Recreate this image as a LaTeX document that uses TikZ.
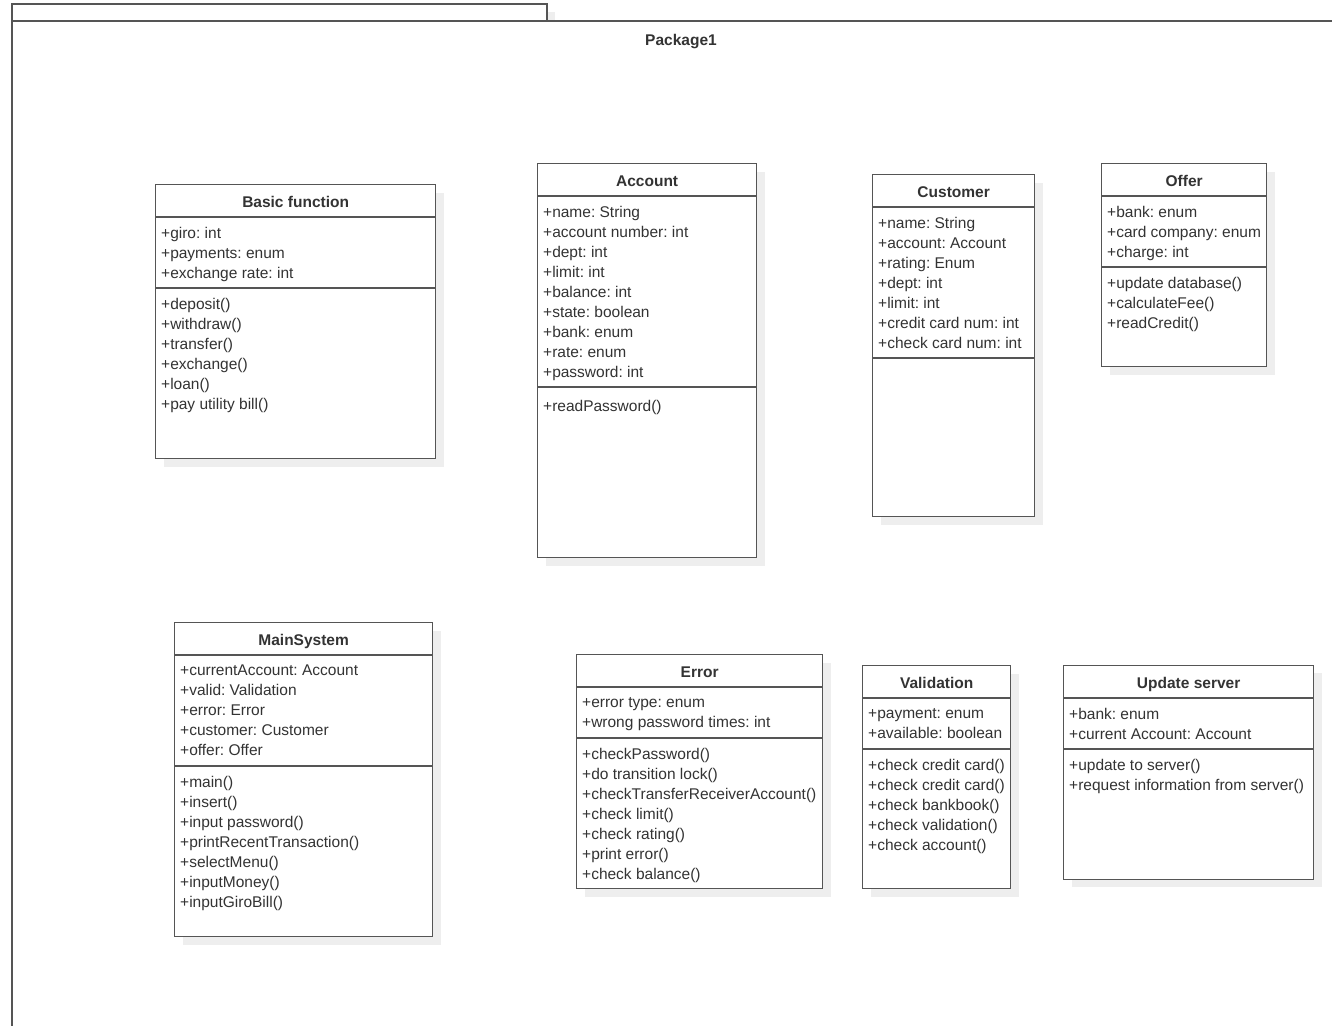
\documentclass[tikz,border=0pt]{standalone}
\usepackage{fontspec}
\setmainfont{Liberation Sans}
\usepackage{tikz}
\usetikzlibrary{shadows,calc}
\definecolor{umlline}{HTML}{555555}
\definecolor{umltext}{HTML}{333333}
\definecolor{umlshadow}{HTML}{EEEEEE}
\frenchspacing

\begin{document}
\begin{tikzpicture}[x=1pt,y=1pt]
  % UML class diagram inside a package frame
  \tikzset{
    classbox/.style={draw=umlline,line width=1.3pt,fill=white,inner sep=0,anchor=north west,
      general shadow={fill=umlshadow,shadow xshift=8pt,shadow yshift=-8pt}},
    sepline/.style={draw=umlline,line width=1.3pt},
    classtitle/.style={anchor=base,inner sep=0,text=umltext,font=\fontsize{15.5}{20}\selectfont\bfseries},
    members/.style={anchor=north west,inner sep=0,align=left,text=umltext,
      font=\fontsize{15.5}{20}\selectfont,execute at begin node=\strut}}
  \useasboundingbox[fill=white] (0,0) rectangle (1332,-1025);

  % package frame
  \draw[sepline,fill=white,general shadow={fill=umlshadow,shadow xshift=8pt,shadow yshift=-8pt}]
    (12,-4) rectangle (547,-21);
  \draw[sepline,fill=white] (12,-1040) rectangle (1350,-21);
  \node[classtitle] (pkg-title) at (681,-46) {Package1};

  % Basic function
  \node[classbox,minimum width=280,minimum height=274] (basic) at (155,-184) {};
  \node[classtitle] (basic-title) at ([yshift=-23.5]basic.north) {Basic function};
  \draw[sepline] ([yshift=-33]basic.north west) -- ([yshift=-33]basic.north east)
    ([yshift=-104]basic.north west) -- ([yshift=-104]basic.north east);
  \node[members] (basic-attr) at ([xshift=6,yshift=-43]basic.north west)
    {+giro: int\\+payments: enum\\+exchange rate: int};
  \node[members] (basic-ops) at ([xshift=6,yshift=-114]basic.north west)
    {+deposit()\\+withdraw()\\+transfer()\\+exchange()\\+loan()\\+pay utility bill()};

  % Account
  \node[classbox,minimum width=219,minimum height=394] (account) at (537,-163) {};
  \node[classtitle] (account-title) at ([yshift=-23.5]account.north) {Account};
  \draw[sepline] ([yshift=-33]account.north west) -- ([yshift=-33]account.north east)
    ([yshift=-224]account.north west) -- ([yshift=-224]account.north east);
  \node[members] (account-attr) at ([xshift=6,yshift=-43]account.north west)
    {+name: String\\+account number: int\\+dept: int\\+limit: int\\+balance: int\\+state: boolean\\+bank: enum\\+rate: enum\\+password: int};
  \node[members] (account-ops) at ([xshift=6,yshift=-234]account.north west)
    {+readPassword()};

  % Customer
  \node[classbox,minimum width=162,minimum height=342] (customer) at (872,-174) {};
  \node[classtitle] (customer-title) at ([yshift=-23.5]customer.north) {Customer};
  \draw[sepline] ([yshift=-33]customer.north west) -- ([yshift=-33]customer.north east)
    ([yshift=-184]customer.north west) -- ([yshift=-184]customer.north east);
  \node[members] (customer-attr) at ([xshift=6,yshift=-43]customer.north west)
    {+name: String\\+account: Account\\+rating: Enum\\+dept: int\\+limit: int\\+credit card num: int\\+check card num: int};

  % Offer
  \node[classbox,minimum width=165,minimum height=203] (offer) at (1101,-163) {};
  \node[classtitle] (offer-title) at ([yshift=-23.5]offer.north) {Offer};
  \draw[sepline] ([yshift=-33]offer.north west) -- ([yshift=-33]offer.north east)
    ([yshift=-104]offer.north west) -- ([yshift=-104]offer.north east);
  \node[members] (offer-attr) at ([xshift=6,yshift=-43]offer.north west)
    {+bank: enum\\+card company: enum\\+charge: int};
  \node[members] (offer-ops) at ([xshift=6,yshift=-114]offer.north west)
    {+update database()\\+calculateFee()\\+readCredit()};

  % MainSystem
  \node[classbox,minimum width=258,minimum height=314] (main) at (174,-622) {};
  \node[classtitle] (main-title) at ([yshift=-23.5]main.north) {MainSystem};
  \draw[sepline] ([yshift=-33]main.north west) -- ([yshift=-33]main.north east)
    ([yshift=-144]main.north west) -- ([yshift=-144]main.north east);
  \node[members] (main-attr) at ([xshift=6,yshift=-43]main.north west)
    {+currentAccount: Account\\+valid: Validation\\+error: Error\\+customer: Customer\\+offer: Offer};
  \node[members] (main-ops) at ([xshift=6,yshift=-154]main.north west)
    {+main()\\+insert()\\+input password()\\+printRecentTransaction()\\+selectMenu()\\+inputMoney()\\+inputGiroBill()};

  % Error
  \node[classbox,minimum width=246,minimum height=234] (error) at (576,-654) {};
  \node[classtitle] (error-title) at ([yshift=-23.5]error.north) {Error};
  \draw[sepline] ([yshift=-33]error.north west) -- ([yshift=-33]error.north east)
    ([yshift=-84]error.north west) -- ([yshift=-84]error.north east);
  \node[members] (error-attr) at ([xshift=6,yshift=-43]error.north west)
    {+error type: enum\\+wrong password times: int};
  \node[members] (error-ops) at ([xshift=6,yshift=-94]error.north west)
    {+checkPassword()\\+do transition lock()\\+checkTransferReceiverAccount()\\+check limit()\\+check rating()\\+print error()\\+check balance()};

  % Validation
  \node[classbox,minimum width=148,minimum height=223] (valid) at (862,-665) {};
  \node[classtitle] (valid-title) at ([yshift=-23.5]valid.north) {Validation};
  \draw[sepline] ([yshift=-33]valid.north west) -- ([yshift=-33]valid.north east)
    ([yshift=-84]valid.north west) -- ([yshift=-84]valid.north east);
  \node[members] (valid-attr) at ([xshift=6,yshift=-43]valid.north west)
    {+payment: enum\\+available: boolean};
  \node[members] (valid-ops) at ([xshift=6,yshift=-94]valid.north west)
    {+check credit card()\\+check credit card()\\+check bankbook()\\+check validation()\\+check account()};

  % Update server
  \node[classbox,minimum width=250,minimum height=214] (update) at (1063,-664.5) {};
  \node[classtitle] (update-title) at ([yshift=-23.5]update.north) {Update server};
  \draw[sepline] ([yshift=-33.5]update.north west) -- ([yshift=-33.5]update.north east)
    ([yshift=-84.5]update.north west) -- ([yshift=-84.5]update.north east);
  \node[members] (update-attr) at ([xshift=6,yshift=-43.5]update.north west)
    {+bank: enum\\+current Account: Account};
  \node[members] (update-ops) at ([xshift=6,yshift=-94.5]update.north west)
    {+update to server()\\+request information from server()};
\end{tikzpicture}
\end{document}
